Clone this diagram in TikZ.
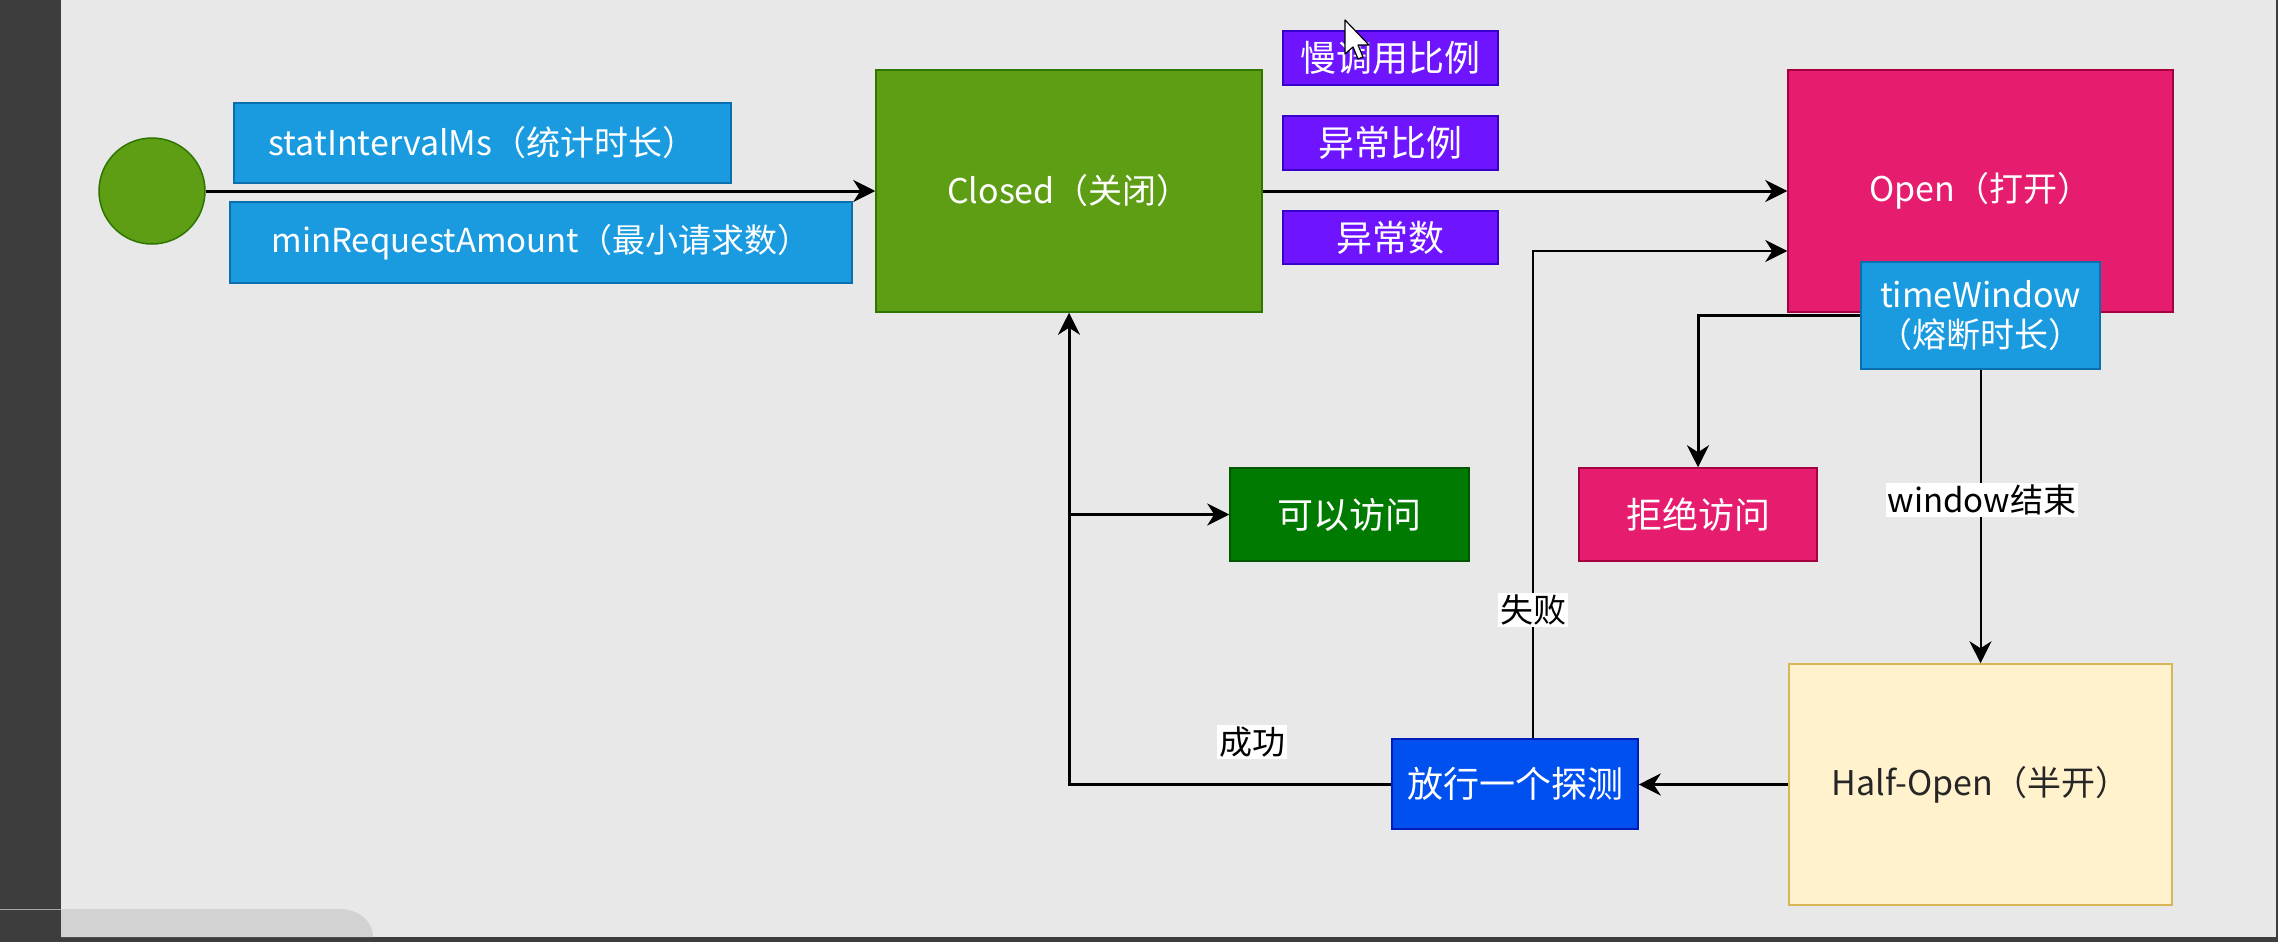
\documentclass[tikz,border=0pt]{standalone}
\usepackage{fontspec}
\setmainfont{Noto Sans CJK SC}
\usetikzlibrary{arrows.meta}
\definecolor{bg}{HTML}{E8E8E8}
\definecolor{frame}{HTML}{3D3D3D}
\definecolor{toolgray}{HTML}{D2D2D2}
\definecolor{grfill}{HTML}{5E9E14}
\definecolor{grdraw}{HTML}{2D7600}
\definecolor{blfill}{HTML}{1A9BE0}
\definecolor{bldraw}{HTML}{0A6EAF}
\definecolor{pufill}{HTML}{6E14FF}
\definecolor{pudraw}{HTML}{3700CC}
\definecolor{pkfill}{HTML}{E61C6E}
\definecolor{pkdraw}{HTML}{A50040}
\definecolor{dgfill}{HTML}{007A00}
\definecolor{dgdraw}{HTML}{005700}
\definecolor{yefill}{HTML}{FFF2CC}
\definecolor{yedraw}{HTML}{D6B656}
\definecolor{prfill}{HTML}{0050EF}
\definecolor{prdraw}{HTML}{001DBC}
\begin{document}
\begin{tikzpicture}[x=1pt,y=-1pt,
  box/.style={rectangle, draw, line width=1.5pt, inner sep=0pt, text=white,
    font=\fontsize{34}{40}\selectfont},
  greenbox/.style={box, fill=grfill, draw=grdraw},
  bluebox/.style={box, fill=blfill, draw=bldraw},
  purplebox/.style={box, fill=pufill, draw=pudraw, font=\fontsize{36}{42}\selectfont},
  pinkbox/.style={box, fill=pkfill, draw=pkdraw},
  lab/.style={fill=white, inner sep=2pt, text=black, font=\fontsize{33}{38}\selectfont},
  arr/.style={-{Stealth[length=22pt,width=22pt,inset=7pt]}, line width=3pt, draw=black},
  arrthin/.style={-{Stealth[length=22pt,width=22pt,inset=7pt]}, line width=2pt, draw=black},
  plain/.style={line width=3pt, draw=black}
]
\useasboundingbox (0,0) rectangle (2278,942);
% screenshot frame
\fill[bg] (0,0) rectangle (2278,942);
\fill[frame] (0,0) rectangle (61,942);
\fill[frame] (0,937) rectangle (2278,942);
\fill[frame] (2276,0) rectangle (2278,942);
\fill[toolgray] (61,937) -- (61,909) -- (340,909) to[out=0,in=90] (373,937) -- cycle;
\draw[gray!70, line width=1pt] (0,909) -- (61,909);

% nodes
\node[circle, fill=grfill, draw=grdraw, line width=1.5pt, minimum size=106pt, inner sep=0pt] (start) at (152,191) {};
\node[bluebox, minimum width=497pt, minimum height=80pt] (stat) at (482.5,143) {statIntervalMs（统计时长）};
\node[bluebox, minimum width=622pt, minimum height=81pt, font=\fontsize{33}{38}\selectfont] (minreq) at (541,242.5) {minRequestAmount（最小请求数）};
\node[greenbox, minimum width=386pt, minimum height=242pt] (closed) at (1069,191) {Closed（关闭）};
\node[purplebox, minimum width=215pt, minimum height=54pt] (slow) at (1390.5,58) {慢调用比例};
\node[purplebox, minimum width=215pt, minimum height=54pt] (errratio) at (1390.5,143) {异常比例};
\node[purplebox, minimum width=215pt, minimum height=53pt] (errcount) at (1390.5,237.5) {异常数};
\node[pinkbox, minimum width=385pt, minimum height=242pt] (open) at (1980.5,191) {Open（打开）};
\node[bluebox, minimum width=239pt, minimum height=107pt, align=center] (tw) at (1980.5,315.5) {timeWindow\\（熔断时长）};
\node[box, fill=dgfill, draw=dgdraw, minimum width=239pt, minimum height=93pt, font=\fontsize{36}{42}\selectfont] (allow) at (1349.5,514.5) {可以访问};
\node[pinkbox, minimum width=238pt, minimum height=93pt, font=\fontsize{36}{42}\selectfont] (deny) at (1698,514.5) {拒绝访问};
\node[box, fill=yefill, draw=yedraw, text=black!85, minimum width=383pt, minimum height=241pt] (half) at (1980.5,784.5) {Half-Open（半开）};
\node[box, fill=prfill, draw=prdraw, minimum width=246pt, minimum height=90pt, font=\fontsize{36}{42}\selectfont] (probe) at (1515,784) {放行一个探测};

% connectors
\draw[arr] (start) -- (closed);
\draw[arr] (closed) -- (open);
\coordinate (failstart) at ([xshift=18pt]probe.north);
\coordinate (failend) at ([yshift=-60pt]open.west);
\draw[arrthin] (failstart) |- (failend);
\draw[arr] (tw.west) -| (deny.north);
\draw[arrthin] (tw.south) -- (half.north);
\draw[arr] (half.west) -- (half.west -| probe.east);
\draw[arr] (probe.west) -| (closed.south);
\coordinate (branch) at (closed.south |- allow.west);
\draw[arr] (branch) -- (allow.west);

% labels
\node[lab] (lfail) at (1533,610) {失败};
\node[lab] (lwin) at (1982,500) {window结束};
\node[lab] (lsucc) at (1252,742) {成功};

% mouse cursor
\draw[fill=white, line width=1.2pt, line join=round]
  (1345,20) -- (1345,54) -- (1353,47) -- (1358,59) -- (1363,57) -- (1358,45) -- (1369,45) -- cycle;
\end{tikzpicture}
\end{document}
